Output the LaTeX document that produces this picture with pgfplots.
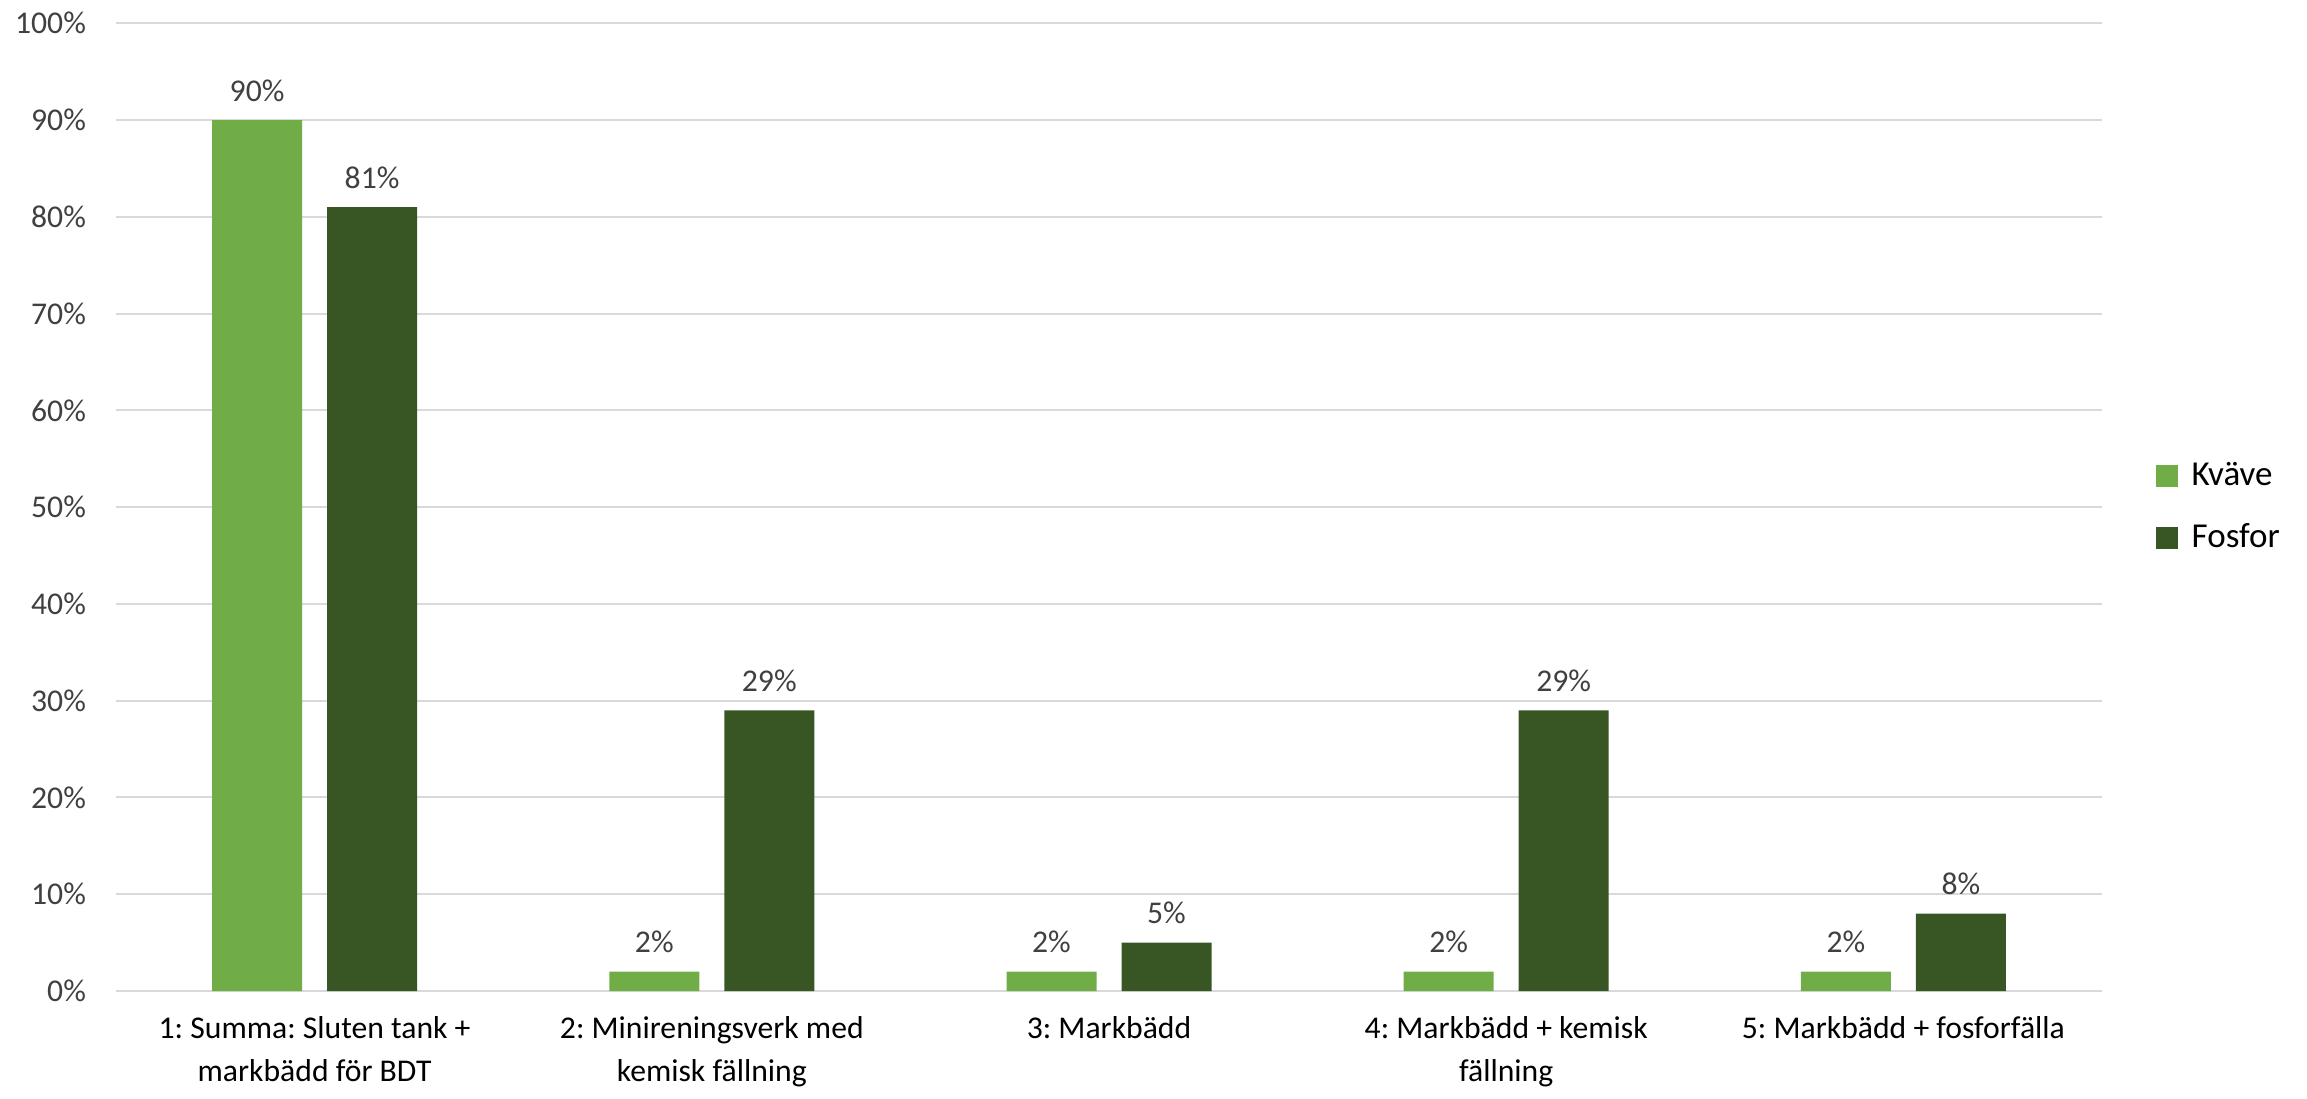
\documentclass[border=0pt]{standalone}
\usepackage{fontspec}
\setmainfont{Carlito}
\usepackage{pgfplots}
\pgfplotsset{compat=1.18}
\definecolor{lgreen}{HTML}{70AD47}
\definecolor{dgreen}{HTML}{375623}
\definecolor{gridgray}{HTML}{D9D9D9}
\definecolor{txt}{HTML}{404040}
\frenchspacing
\begin{document}
\frenchspacing
\begin{tikzpicture}
\useasboundingbox (-34.8pt,-32.1pt) rectangle (657.3pt,297.3pt);
\begin{axis}[
  scale only axis,
  width=595.8pt, height=290.3pt,
  ybar=7.5pt, bar width=27pt,
  xmin=0.5, xmax=5.5,
  ymin=0, ymax=100,
  ytick={0,10,...,100},
  xtick={1,2,3,4,5},
  xticklabels={{1: Summa: Sluten tank +\\markbädd för BDT},{2: Minireningsverk med\\kemisk fällning},{3: Markbädd},{4: Markbädd + kemisk\\fällning},{5: Markbädd + fosforfälla}},
  xticklabel style={align=center, font=\fontsize{9.5}{12.9}\selectfont, text=black, yshift=-4pt},
  yticklabel={\pgfmathprintnumber{\tick}\%},
  yticklabel style={font=\fontsize{9.5}{11}\selectfont, text=txt, xshift=-5.5pt},
  /pgf/number format/assume math mode=true,
  major tick length=0pt,
  ymajorgrids, grid style={gridgray, line width=0.6pt},
  axis x line*=bottom, axis y line*=left,
  x axis line style={gridgray, line width=0.8pt, -},
  y axis line style={draw=none},
  nodes near coords={\pgfmathprintnumber{\pgfplotspointmeta}\%},
  nodes near coords style={font=\fontsize{9.5}{11}\selectfont, text=txt, yshift=2pt},
  legend style={draw=none, fill=none, at={(1.022,0.5)}, anchor=west,
    font=\fontsize{10.5}{12}\selectfont, row sep=6pt, legend cell align=left,
    nodes={inner xsep=4pt}},
  legend image code/.code={\fill[#1] (0pt,-3.3pt) rectangle (6.6pt,3.3pt);},
]
\addplot[fill=lgreen, draw=none] coordinates {(1,90) (2,2) (3,2) (4,2) (5,2)};
\addplot[fill=dgreen, draw=none] coordinates {(1,81) (2,29) (3,5) (4,29) (5,8)};
\legend{Kväve, Fosfor}
\end{axis}
\end{tikzpicture}
\end{document}
